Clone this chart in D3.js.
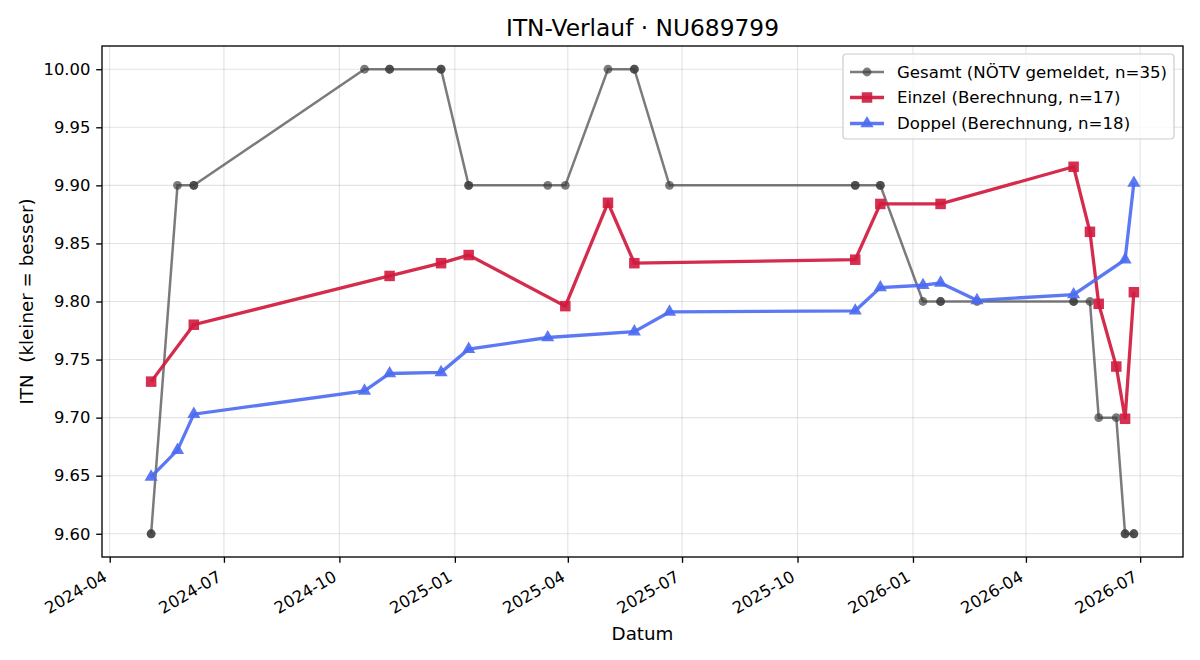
<!DOCTYPE html>
<html>
<head>
<meta charset="utf-8">
<script src="https://cdn.jsdelivr.net/npm/d3@7"></script>
<style>
  html, body { margin: 0; padding: 0; background: #fff; }
  svg { display: block; font-family: "DejaVu Sans", sans-serif; }
  svg text { font-family: "DejaVu Sans", sans-serif; }
</style>
</head>
<body>
<svg id="chart" width="1200" height="660"></svg>
<script>
// ---------- data ----------
const chartTitle = "ITN-Verlauf · NU689799";
const xLabel = "Datum";
const yLabel = "ITN  (kleiner = besser)";
const seriesNames = ["Gesamt (NÖTV gemeldet, n=35)", "Einzel (Berechnung, n=17)", "Doppel (Berechnung, n=18)"];

const gesamtDates = [
  "2024-05-04","2024-05-04","2024-05-25","2024-06-07","2024-06-07","2024-10-21","2024-11-10","2024-11-10",
  "2024-12-21","2024-12-21","2025-01-12","2025-01-12","2025-03-16","2025-03-30","2025-05-03","2025-05-24",
  "2025-05-24","2025-06-21","2025-11-16","2025-11-16","2025-12-06","2025-12-06","2026-01-09","2026-01-23",
  "2026-01-23","2026-02-21","2026-05-09","2026-05-09","2026-05-22","2026-05-29","2026-06-12","2026-06-19",
  "2026-06-19","2026-06-26","2026-06-26"
];
const gesamtValues = [
  9.60, 9.60, 9.90, 9.90, 9.90, 10.00, 10.00, 10.00,
  10.00, 10.00, 9.90, 9.90, 9.90, 9.90, 10.00, 10.00,
  10.00, 9.90, 9.90, 9.90, 9.90, 9.90, 9.80, 9.80,
  9.80, 9.80, 9.80, 9.80, 9.80, 9.70, 9.70, 9.60,
  9.60, 9.60, 9.60
];

const einzelDates = [
  "2024-05-04","2024-06-07","2024-11-10","2024-12-21","2025-01-12","2025-03-30","2025-05-03","2025-05-24",
  "2025-11-16","2025-12-06","2026-01-23","2026-05-09","2026-05-22","2026-05-29","2026-06-12","2026-06-19","2026-06-26"
];
const einzelValues = [
  9.731, 9.780, 9.822, 9.833, 9.840, 9.796, 9.885, 9.833,
  9.836, 9.884, 9.884, 9.916, 9.860, 9.798, 9.744, 9.699, 9.808
];

const doppelDates = [
  "2024-05-04","2024-05-25","2024-06-07","2024-10-21","2024-11-10","2024-12-21","2025-01-12","2025-03-16",
  "2025-05-24","2025-06-21","2025-11-16","2025-12-06","2026-01-09","2026-01-23","2026-02-21","2026-05-09",
  "2026-06-19","2026-06-26"
];
const doppelValues = [
  9.649, 9.672, 9.703, 9.723, 9.738, 9.739, 9.759, 9.769,
  9.774, 9.791, 9.792, 9.812, 9.814, 9.816, 9.801, 9.806,
  9.836, 9.902
];

// ---------- layout ----------
const svg = d3.select("#chart");
const mLeft = 102, mRight = 1183, mTop = 46, mBottom = 557;
const FONT = "DejaVu Sans, sans-serif";
const parse = d3.utcParse("%Y-%m-%d");

const toPts = (ds, vs) => ds.map((d, i) => ({ date: parse(d), value: vs[i] }));
const gesamt = toPts(gesamtDates, gesamtValues);
const einzel = toPts(einzelDates, einzelValues);
const doppel = toPts(doppelDates, doppelValues);
const allPts = gesamt.concat(einzel, doppel);

const [dMin, dMax] = d3.extent(allPts, d => d.date);
const dPad = (dMax - dMin) * 0.05;
const [vMin, vMax] = d3.extent(allPts, d => d.value);
const vPad = (vMax - vMin) * 0.05;

const x = d3.scaleUtc().domain([new Date(+dMin - dPad), new Date(+dMax + dPad)]).range([mLeft, mRight]);
const y = d3.scaleLinear().domain([vMin - vPad, vMax + vPad]).range([mBottom, mTop]);

const xTicks = x.ticks(d3.utcMonth.every(3));
const yTicks = d3.range(9.60, 10.0001, 0.05);
const fmtX = d3.utcFormat("%Y-%m");

// grid
const grid = svg.append("g");
grid.selectAll(".gx").data(xTicks).join("line")
  .attr("x1", d => x(d)).attr("x2", d => x(d)).attr("y1", mTop).attr("y2", mBottom)
  .attr("stroke", "#b0b0b0").attr("stroke-opacity", 0.35).attr("stroke-width", 1.1);
grid.selectAll(".gy").data(yTicks).join("line")
  .attr("x1", mLeft).attr("x2", mRight).attr("y1", d => y(d)).attr("y2", d => y(d))
  .attr("stroke", "#b0b0b0").attr("stroke-opacity", 0.35).attr("stroke-width", 1.1);

// axes
const xAxis = d3.axisBottom(x).tickValues(xTicks).tickFormat(fmtX).tickSize(5.8).tickPadding(5.8);
const yAxis = d3.axisLeft(y).tickValues(yTicks).tickFormat(d3.format(".2f")).tickSize(5.8).tickPadding(5.8);

const gx = svg.append("g").attr("transform", `translate(0,${mBottom})`).call(xAxis)
  .attr("font-family", FONT).attr("font-size", "16.4px");
gx.select(".domain").remove();
gx.selectAll(".tick line").attr("stroke", "#000").attr("stroke-width", 1.33);
gx.selectAll(".tick text")
  .attr("fill", "#000")
  .attr("text-anchor", "end")
  .attr("y", 0).attr("dy", 0)
  .attr("transform", "translate(-2,23) rotate(-30)");

const gy = svg.append("g").attr("transform", `translate(${mLeft},0)`).call(yAxis)
  .attr("font-family", FONT).attr("font-size", "16.4px");
gy.select(".domain").remove();
gy.selectAll(".tick line").attr("stroke", "#000").attr("stroke-width", 1.33);
gy.selectAll(".tick text").attr("fill", "#000");

// frame
svg.append("rect").attr("x", mLeft).attr("y", mTop).attr("width", mRight - mLeft).attr("height", mBottom - mTop)
  .attr("fill", "none").attr("stroke", "#000").attr("stroke-width", 1.33);

// series
const line = d3.line().x(d => x(d.date)).y(d => y(d.value));
const plot = svg.append("g");

const gCol = "#3c3c3c", eCol = "#d01a3e", dCol = "#4a6af2";

// Gesamt
plot.append("path").datum(gesamt).attr("d", line).attr("fill", "none")
  .attr("stroke", gCol).attr("stroke-opacity", 0.68).attr("stroke-width", 2.5);
plot.selectAll(".gm").data(gesamt).join("circle")
  .attr("cx", d => x(d.date)).attr("cy", d => y(d.value)).attr("r", 4.4)
  .attr("fill", gCol).attr("fill-opacity", 0.68);

// Einzel
plot.append("path").datum(einzel).attr("d", line).attr("fill", "none")
  .attr("stroke", eCol).attr("stroke-opacity", 0.92).attr("stroke-width", 3.3);
const sq = 10.5;
plot.selectAll(".em").data(einzel).join("rect")
  .attr("x", d => x(d.date) - sq / 2).attr("y", d => y(d.value) - sq / 2)
  .attr("width", sq).attr("height", sq)
  .attr("fill", eCol).attr("fill-opacity", 0.9);

// Doppel
plot.append("path").datum(doppel).attr("d", line).attr("fill", "none")
  .attr("stroke", dCol).attr("stroke-opacity", 0.9).attr("stroke-width", 3.3);
const tri = d3.symbol().type(d3.symbolTriangle).size(75);
plot.selectAll(".dm").data(doppel).join("path")
  .attr("d", tri)
  .attr("transform", d => `translate(${x(d.date)},${y(d.value)})`)
  .attr("fill", dCol).attr("fill-opacity", 0.9);

// title & labels
svg.append("text").attr("x", (mLeft + mRight) / 2).attr("y", 36).attr("text-anchor", "middle")
  .attr("font-family", FONT).attr("font-size", "23.3px").attr("fill", "#000").text(chartTitle);
svg.append("text").attr("x", (mLeft + mRight) / 2).attr("y", 640).attr("text-anchor", "middle")
  .attr("font-family", FONT).attr("font-size", "18.3px").attr("fill", "#000").text(xLabel);
svg.append("text").attr("transform", `translate(33,${(mTop + mBottom) / 2}) rotate(-90)`)
  .attr("text-anchor", "middle").attr("font-family", FONT).attr("font-size", "18.3px").attr("fill", "#000")
  .style("white-space", "pre").text(yLabel);

// legend
const lg = svg.append("g");
lg.append("rect").attr("x", 843).attr("y", 54).attr("width", 331).attr("height", 85)
  .attr("rx", 3.5).attr("fill", "#fff").attr("fill-opacity", 0.8)
  .attr("stroke", "#cccccc").attr("stroke-width", 1.2);
const rowsY = [72, 97.5, 123.5];
const cols = [gCol, eCol, dCol];
const ops = [0.68, 0.92, 0.9];
const widths = [2.5, 3.3, 3.3];
seriesNames.forEach((name, i) => {
  const yy = rowsY[i];
  lg.append("line").attr("x1", 850).attr("x2", 884).attr("y1", yy).attr("y2", yy)
    .attr("stroke", cols[i]).attr("stroke-opacity", ops[i]).attr("stroke-width", widths[i]);
  if (i === 0) {
    lg.append("circle").attr("cx", 867).attr("cy", yy).attr("r", 4.4).attr("fill", cols[i]).attr("fill-opacity", ops[i]);
  } else if (i === 1) {
    lg.append("rect").attr("x", 867 - sq / 2).attr("y", yy - sq / 2).attr("width", sq).attr("height", sq)
      .attr("fill", cols[i]).attr("fill-opacity", 0.9);
  } else {
    lg.append("path").attr("d", tri).attr("transform", `translate(867,${yy})`).attr("fill", cols[i]).attr("fill-opacity", 0.9);
  }
  lg.append("text").attr("x", 897).attr("y", yy).attr("dy", "0.35em")
    .attr("font-family", FONT).attr("font-size", "16.6px").attr("fill", "#000").text(name);
});
</script>
</body>
</html>
